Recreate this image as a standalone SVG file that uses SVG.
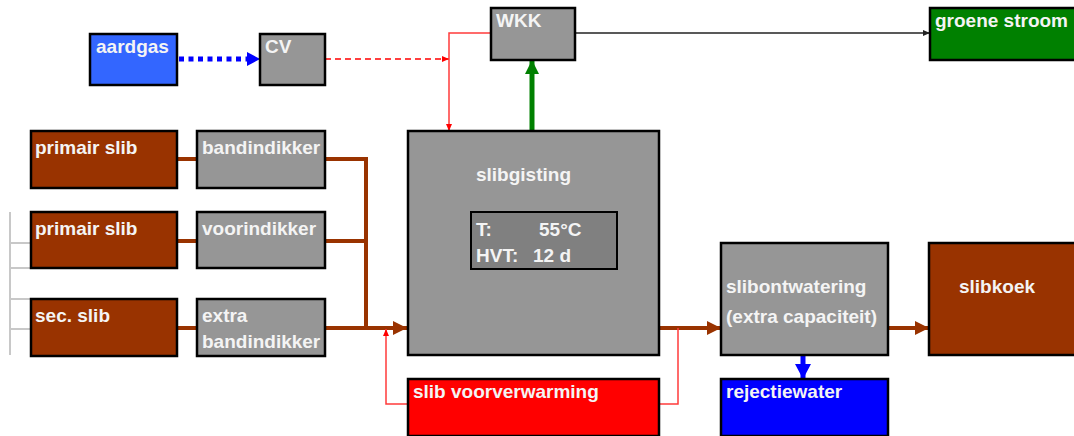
<svg xmlns="http://www.w3.org/2000/svg" width="1074" height="436" viewBox="0 0 1074 436">
<defs>
<style>
.box{stroke:#000;stroke-width:2.5}
.gray{fill:#969696}
.brown{fill:#993300}
.t{font-family:"Liberation Sans",Arial,sans-serif;font-weight:bold;font-size:19px;fill:#f4f4f4}
.br{fill:none;stroke:#993300;stroke-width:4}
.rd{fill:none;stroke:#ff3b3b;stroke-width:1.5}
</style>
<marker id="aBr" markerUnits="userSpaceOnUse" markerWidth="14" markerHeight="14" refX="14" refY="7" orient="auto"><path d="M0,0 L14,7 L0,14 Z" fill="#993300"/></marker>
<marker id="aRd" markerUnits="userSpaceOnUse" markerWidth="7" markerHeight="6" refX="7" refY="3" orient="auto"><path d="M0,0 L7,3 L0,6 Z" fill="#ff0000"/></marker>
<marker id="aBk" markerUnits="userSpaceOnUse" markerWidth="7" markerHeight="6" refX="7" refY="3" orient="auto"><path d="M0,0 L7,3 L0,6 Z" fill="#222"/></marker>
<marker id="aGr" markerUnits="userSpaceOnUse" markerWidth="14" markerHeight="14" refX="14" refY="7" orient="auto"><path d="M0,0 L14,7 L0,14 Z" fill="#008000"/></marker>
<marker id="aBl" markerUnits="userSpaceOnUse" markerWidth="15" markerHeight="16" refX="15" refY="8" orient="auto"><path d="M0,0 L15,8 L0,16 Z" fill="#0000ff"/></marker>
<marker id="aBl2" markerUnits="userSpaceOnUse" markerWidth="13" markerHeight="14" refX="13" refY="7" orient="auto"><path d="M0,0 L13,7 L0,14 Z" fill="#0000ff"/></marker>
</defs>
<rect width="1074" height="436" fill="#fff"/>

<g id="connectors">
<!-- grey bracket at far left -->
<path d="M10,212 V355 M10,243 H30 M10,268 H30 M10,299 H30 M10,329 H30" fill="none" stroke="#c8c8c8" stroke-width="2"/>
<!-- brown sludge lines -->
<path class="br" d="M177,159 H197 M177,241 H197 M177,328 H197"/>
<path class="br" d="M325,159 H366 V328 M325,241 H366"/>
<path class="br" d="M325,328 H407" marker-end="url(#aBr)"/>
<path class="br" d="M659,328 H721" marker-end="url(#aBr)"/>
<path class="br" d="M888,328 H929" marker-end="url(#aBr)"/>
<!-- gas -->
<path d="M179,59 H247" fill="none" stroke="#0000ff" stroke-width="5" stroke-dasharray="5,4.5"/>
<path d="M247,59 H260" fill="none" stroke="#0000ff" stroke-width="1" marker-end="url(#aBl2)"/>
<path d="M325,59 H449" fill="none" stroke="#ff0000" stroke-width="1.5" stroke-dasharray="6,4" marker-end="url(#aRd)"/>
<!-- WKK heat to digester -->
<path class="rd" d="M491,33 H449 V131" marker-end="url(#aRd)"/>
<!-- biogas to WKK -->
<path d="M532,131 V60" fill="none" stroke="#008000" stroke-width="5" marker-end="url(#aGr)"/>
<!-- power -->
<path d="M575,33 H930" fill="none" stroke="#222" stroke-width="1.5" marker-end="url(#aBk)"/>
<!-- preheating loop -->
<path class="rd" d="M659,404 H678 V328"/>
<path class="rd" d="M408,404 H386 V329" marker-end="url(#aRd)"/>
<!-- reject water -->
<path d="M803,355 V379" fill="none" stroke="#0000ff" stroke-width="5" marker-end="url(#aBl)"/>
</g>

<g id="aardgas"><rect class="box" x="90" y="34" width="87" height="51" fill="#3366ff"/><text class="t" x="96" y="53">aardgas</text></g>
<g id="cv"><rect class="box gray" x="260" y="34" width="65" height="51"/><text class="t" x="265" y="53">CV</text></g>
<g id="wkk"><rect class="box gray" x="491" y="8" width="84" height="52"/><text class="t" x="496" y="27">WKK</text></g>
<g id="groene-stroom"><rect class="box" x="930" y="8" width="150" height="52" fill="#008000"/><text class="t" x="935" y="27">groene stroom</text></g>

<g id="primair-slib-1"><rect class="box brown" x="31" y="131" width="146" height="57"/><text class="t" x="35" y="154">primair slib</text></g>
<g id="bandindikker"><rect class="box gray" x="197" y="131" width="128" height="57"/><text class="t" x="202" y="154">bandindikker</text></g>
<g id="primair-slib-2"><rect class="box brown" x="31" y="212" width="146" height="56"/><text class="t" x="35" y="235">primair slib</text></g>
<g id="voorindikker"><rect class="box gray" x="197" y="212" width="128" height="56"/><text class="t" x="202" y="235">voorindikker</text></g>
<g id="sec-slib"><rect class="box brown" x="31" y="299" width="146" height="57"/><text class="t" x="35" y="322">sec. slib</text></g>
<g id="extra-bandindikker"><rect class="box gray" x="197" y="299" width="128" height="57"/><text class="t" x="202" y="322">extra</text><text class="t" x="202" y="348">bandindikker</text></g>

<g id="slibgisting"><rect class="box gray" x="408" y="131" width="251" height="224"/><text class="t" x="476" y="181">slibgisting</text>
<rect x="471" y="212" width="146" height="57" fill="#808080" stroke="#000" stroke-width="2"/>
<text class="t" x="476" y="236">T:</text><text class="t" x="539" y="236">55°C</text>
<text class="t" x="476" y="262">HVT:</text><text class="t" x="533" y="262">12 d</text></g>

<g id="slib-voorverwarming"><rect class="box" x="408" y="379" width="251" height="57" fill="#ff0000"/><text class="t" x="413" y="398">slib voorverwarming</text></g>
<g id="slibontwatering"><rect class="box gray" x="721" y="243" width="167" height="112"/><text class="t" x="726" y="293">slibontwatering</text><text class="t" x="726" y="323">(extra capaciteit)</text></g>
<g id="rejectiewater"><rect class="box" x="721" y="379" width="167" height="57" fill="#0000ff"/><text class="t" x="726" y="398">rejectiewater</text></g>
<g id="slibkoek"><rect class="box brown" x="929" y="243" width="150" height="112"/><text class="t" x="959" y="293">slibkoek</text></g>
</svg>
